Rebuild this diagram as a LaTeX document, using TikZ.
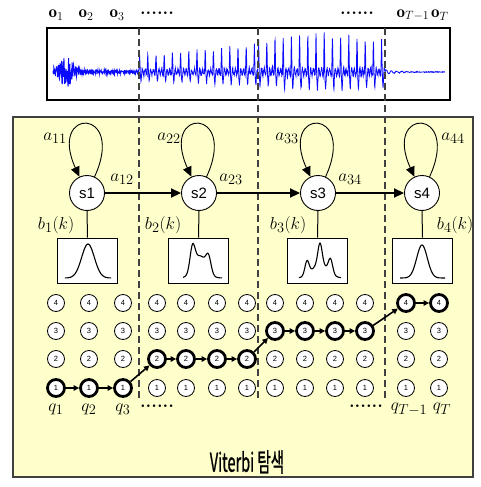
\documentclass[tikz,border=0pt]{standalone}
\usepackage{fontspec}
\setsansfont{Liberation Sans}
\newfontfamily\krfont[FakeBold=1.2]{Noto Sans CJK KR}
\usetikzlibrary{arrows.meta}
\definecolor{paleyellow}{RGB}{255,255,204}
\definecolor{wavecol}{RGB}{10,10,255}
\begin{document}
\begin{tikzpicture}[x=1pt,y=-1pt,
  state/.style={circle, draw, fill=white, line width=0.9pt, minimum size=35pt, inner sep=0pt, font=\sffamily\fontsize{15}{15}\selectfont},
  distbox/.style={rectangle, draw, fill=white, line width=0.9pt, minimum width=60pt, minimum height=45pt, inner sep=0pt},
  gnode/.style={circle, draw, fill=white, line width=0.8pt, minimum size=17pt, inner sep=0pt, font=\sffamily\fontsize{7.5}{7.5}\selectfont},
  gpath/.style={gnode, line width=2.8pt},
  trans/.style={line width=1.8pt, -{Triangle[length=10pt,width=9pt]}},
  loopline/.style={line width=0.9pt, -{Triangle[length=10pt,width=9pt]}},
  sel/.style={line width=1.6pt, -{Triangle[length=5.5pt,width=5.5pt]}},
  mlabel/.style={font=\fontsize{19}{19}\selectfont, inner sep=0pt},
  olabel/.style={font=\fontsize{17}{17}\selectfont, inner sep=0pt},
  dotlabel/.style={font=\bfseries\fontsize{18}{18}\selectfont, inner sep=0pt},
  vdash/.style={dash pattern=on 7pt off 4pt, line width=1.1pt, black!75},
  wave/.style={wavecol, line width=0.8pt},
  curve/.style={line width=1.1pt}
]
\useasboundingbox (0,0) rectangle (481,487);
\pgfmathsetseed{7}
% yellow panel
\draw[fill=paleyellow, draw=black!75, line width=1.2pt] (13,117) rectangle (473,477);
% top waveform box
\draw[fill=white, line width=1.6pt] (47,28) rectangle (450,100);
% waveform
\draw[wave] plot[domain=53:139, samples=320]
  (\x, {72 - (1.5 + 12*exp(-min(20,(\x-67)^2/60)) + 3*exp(-(\x-55)/30))*rand});
\draw[wave] plot[domain=139:258, samples=600]
  (\x, {72 - ( (14+12*(\x-139)/119)*max(0,1-abs(mod(\x-139,8.2)-0.6)/0.7)
              - (6+5*(\x-139)/119)*max(0,1-abs(mod(\x-139,8.2)-2.0)/1.0)
              + 2.5*sin(mod(\x-139,8.2)*130) + 1.5*rand )});
\draw[wave] plot[domain=258:385, samples=640]
  (\x, {72 - ( (28+8*sin((\x-258)/127*180))*max(0,1-abs(mod(\x-258,8.2)-0.6)/0.7)
              - (11+5*sin((\x-258)/127*180))*max(0,1-abs(mod(\x-258,8.2)-2.0)/1.0)
              + 3*sin(mod(\x-258,8.2)*130) + 2*rand )});
\draw[wave] plot[domain=385:445, samples=150]
  (\x, {72 - (2.5*exp(-(\x-385)/12)*sin((\x-385)*70) + 0.4*rand)});
% dashed separators
\draw[vdash] (139,28) -- (139,398);
\draw[vdash] (258,28) -- (258,398);
\draw[vdash] (385,28) -- (385,398);
% observation labels
\node[olabel] (o1) at (56,15) {$\mathbf{o}_1$};
\node[olabel] (o2) at (86,15) {$\mathbf{o}_2$};
\node[olabel] (o3) at (117,15) {$\mathbf{o}_3$};
\node[dotlabel] (odl) at (157,13) {......};
\node[dotlabel] (odr) at (357,13) {......};
\node[olabel] (oT1) at (413,15) {$\mathbf{o}_{T-1}$};
\node[olabel] (oT) at (440,15) {$\mathbf{o}_T$};
% states
\node[state] (s1) at (87,193) {s1};
\node[state] (s2) at (199,193) {s2};
\node[state] (s3) at (318,193) {s3};
\node[state] (s4) at (422,193) {s4};
\foreach \s in {s1,s2,s3,s4}{
  \draw[loopline] (\s.65) .. controls +(32,-70) and +(-32,-70) .. (\s.115);
}
\draw[trans] (s1) -- (s2);
\draw[trans] (s2) -- (s3);
\draw[trans] (s3) -- (s4);
\node[mlabel] (a11) at (55,138) {$a_{11}$};
\node[mlabel] (a12) at (122,179) {$a_{12}$};
\node[mlabel] (a22) at (169,138) {$a_{22}$};
\node[mlabel] (a23) at (231,179) {$a_{23}$};
\node[mlabel] (a33) at (287,138) {$a_{33}$};
\node[mlabel] (a34) at (350,179) {$a_{34}$};
\node[mlabel] (a44) at (453,138) {$a_{44}$};
% emission boxes
\node[distbox] (d1) at (87.5,260.5) {};
\node[distbox] (d2) at (198.5,260.5) {};
\node[distbox] (d3) at (317.5,260.5) {};
\node[distbox] (d4) at (422.5,260.5) {};
\draw[line width=1pt] (s1.south) -- (d1.north);
\draw[line width=1pt] (s2.south) -- (d2.north);
\draw[line width=1pt] (s3.south) -- (d3.north);
\draw[line width=1pt] (s4.south) -- (d4.north);
\node[mlabel] (b1) at (56,225) {$b_1(k)$};
\node[mlabel] (b2) at (163,225) {$b_2(k)$};
\node[mlabel] (b3) at (288,225) {$b_3(k)$};
\node[mlabel] (b4) at (455,225) {$b_4(k)$};
\draw[curve] plot[domain=65:111, samples=70, smooth] (\x, {278 - 34*exp(-((\x-88)/9)^2)});
\draw[curve] plot[domain=183:222, samples=70, smooth]
  (\x, {278 - (22*exp(-((\x-200)/9)^2) + 23*exp(-((\x-192.5)/3.5)^2) + 15*exp(-((\x-208.5)/3.5)^2))});
\draw[curve] plot[domain=299:341, samples=80, smooth]
  (\x, {278 - (14*exp(-((\x-320)/11)^2) + 14*exp(-((\x-307)/3)^2) + 21*exp(-((\x-320)/3)^2) + 14*exp(-((\x-330.5)/3)^2))});
\draw[curve] plot[domain=400:445, samples=70, smooth] (\x, {278 - 33*exp(-((\x-422)/7.5)^2)});
% trellis
\foreach \x/\p [count=\i] in {56/1,89/1,123/1,157/2,186/2,217/2,247/2,275/3,305/3,335/3,365/3,406/4,439/4}{
  \foreach \r/\y in {1/388,2/359,3/331,4/303}{
    \ifnum\r=\p
      \node[gpath] (g\i r\r) at (\x,\y) {\r};
    \else
      \node[gnode] (g\i r\r) at (\x,\y) {\r};
    \fi
  }
}
\foreach \a/\b in {g1r1/g2r1, g2r1/g3r1, g3r1/g4r2, g4r2/g5r2, g5r2/g6r2, g6r2/g7r2, g7r2/g8r3, g8r3/g9r3, g9r3/g10r3, g10r3/g11r3, g11r3/g12r4, g12r4/g13r4}{
  \draw[sel] (\a) -- (\b);
}
\node[mlabel] (q1) at (56,409) {$q_1$};
\node[mlabel] (q2) at (89,409) {$q_2$};
\node[mlabel] (q3) at (123,409) {$q_3$};
\node[dotlabel] (qdl) at (157,406) {......};
\node[dotlabel] (qdr) at (366,406) {......};
\node[mlabel] (qT1) at (409,409) {$q_{T-1}$};
\node[mlabel] (qT) at (442,409) {$q_T$};
% title
\node (title) at (247,462) {\scalebox{0.56}[1]{\krfont\fontsize{26}{26}\selectfont Viterbi 탐색}};
\end{tikzpicture}
\end{document}
